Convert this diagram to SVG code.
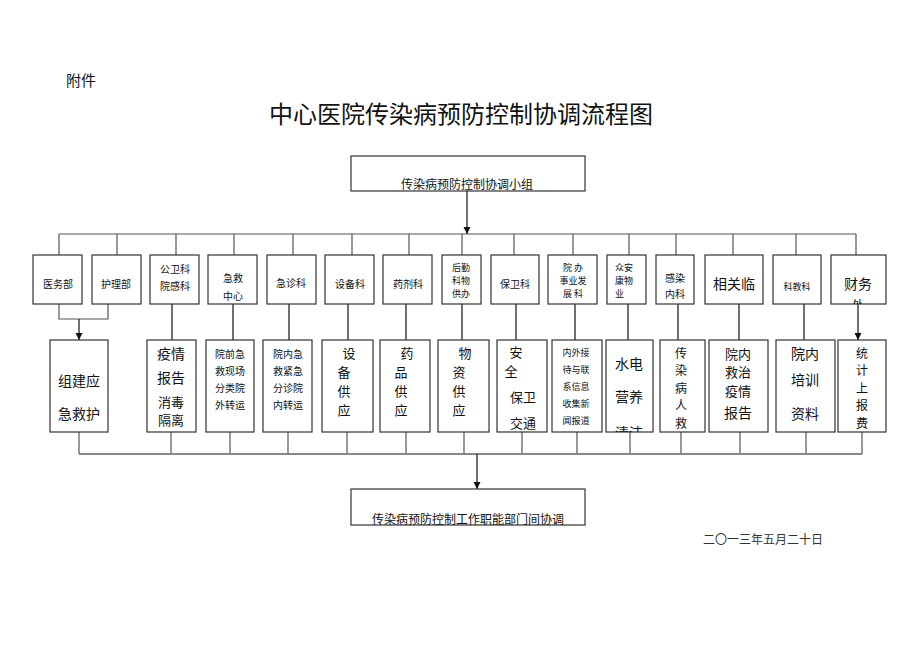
<svg xmlns="http://www.w3.org/2000/svg" width="920" height="651" viewBox="0 0 920 651">
<style>
text{font-family:"Noto Sans CJK SC","Liberation Sans",sans-serif;fill:#111;text-anchor:middle;dominant-baseline:central}
.box rect{fill:#fff;stroke:#333;stroke-width:1.2}
.s10{font-size:10px}.s9{font-size:9px}.s14{font-size:14px}.s13{font-size:13px}.s12{font-size:12px}
.ln{stroke:#555;stroke-width:1.2;fill:none}
.ar{stroke:#111;stroke-width:1.2;fill:none;marker-end:url(#a)}
.bus{stroke:#888;stroke-width:2.2;fill:none}
</style>
<defs>
<marker id="a" markerWidth="8" markerHeight="8" refX="7" refY="4" orient="auto" markerUnits="userSpaceOnUse"><path d="M0,0.5 L7,4 L0,7.5 Z" fill="#111"/></marker>
<clipPath id="cFin"><rect x="831" y="255" width="55" height="49"/></clipPath>
<clipPath id="cWater"><rect x="606" y="340" width="47" height="92"/></clipPath>
</defs>
<rect width="920" height="651" fill="#fff"/>
<text x="81" y="79" style="font-size:15px">附件</text>
<text x="461" y="112" style="font-size:24px">中心医院传染病预防控制协调流程图</text>
<g id="top"><g class="box"><rect x="351" y="156" width="234" height="35"/></g><text x="467" y="183" class="s12">传染病预防控制协调小组</text></g>
<g id="connectors">
<path class="ar" d="M467,191 V234"/>
<path class="ln" d="M59,234 H856 M59,234 V255 M117,234 V255 M176,234 V255 M234,234 V255 M293,234 V255 M352,234 V255 M409,234 V255 M462,234 V255 M514,234 V255 M573,234 V255 M629,234 V255 M676,234 V255 M733,234 V255 M796,234 V255 M856,234 V255"/>
<path class="ln" d="M59,304 V319 H108 V304"/>
<path class="ar" d="M79,319 V340"/>
<path class="ar" d="M172,304 V340 M233,304 V340 M289,304 V340 M348,304 V340 M406,304 V340 M462,304 V340 M516,304 V340 M575,304 V340 M628,304 V340 M678,304 V340 M739,304 V340 M804,304 V340 M858,304 V340"/>
<path class="ln" d="M79,432 V454 M171,432 V454 M230,432 V454 M288,432 V454 M347,432 V454 M406,432 V454 M464,432 V454 M522,432 V454 M577,432 V454 M630,432 V454 M681,432 V454 M740,432 V454 M806,432 V454 M862,432 V454"/>
<path class="bus" d="M79,454 H862"/>
<path class="ar" d="M477,454 V489"/>
</g>
<g id="n1"><g class="box"><rect x="33" y="255" width="49" height="49"/></g><text x="58" y="283" class="s10">医务部</text></g>
<g id="n2"><g class="box"><rect x="92" y="255" width="49" height="49"/></g><text x="116" y="283" class="s10">护理部</text></g>
<g id="n3"><g class="box"><rect x="150" y="255" width="49" height="49"/></g><text x="175" y="268" class="s10">公卫科</text><text x="175" y="285" class="s10">院感科</text></g>
<g id="n4"><g class="box"><rect x="208" y="255" width="49" height="49"/></g><text x="233" y="277" class="s10">急救</text><text x="233" y="295" class="s10">中心</text></g>
<g id="n5"><g class="box"><rect x="267" y="255" width="49" height="49"/></g><text x="291" y="282" class="s10">急诊科</text></g>
<g id="n6"><g class="box"><rect x="325" y="255" width="49" height="49"/></g><text x="350" y="283" class="s10">设备科</text></g>
<g id="n7"><g class="box"><rect x="383" y="255" width="49" height="49"/></g><text x="408" y="283" class="s10">药剂科</text></g>
<g id="n8"><g class="box"><rect x="442" y="255" width="39" height="49"/></g><text x="461" y="267" class="s9">后勤</text><text x="461" y="280.2" class="s9">科物</text><text x="461" y="293.4" class="s9">供办</text></g>
<g id="n9"><g class="box"><rect x="491" y="255" width="48" height="49"/></g><text x="515" y="283" class="s10">保卫科</text></g>
<g id="n10"><g class="box"><rect x="548" y="255" width="49" height="49"/></g><text x="573" y="267" class="s9">院 办</text><text x="573" y="280.2" class="s9">事业发</text><text x="573" y="293.4" class="s9">展 科</text></g>
<g id="n11"><g class="box"><rect x="607" y="255" width="39" height="49"/></g><text x="615" y="267" class="s9" style="text-anchor:start">众安</text><text x="615" y="280.2" class="s9" style="text-anchor:start">康物</text><text x="615" y="293.4" class="s9" style="text-anchor:start">业</text></g>
<g id="n12"><g class="box"><rect x="656" y="255" width="38" height="49"/></g><text x="675" y="277" class="s10">感染</text><text x="675" y="293" class="s10">内科</text></g>
<g id="n13"><g class="box"><rect x="705" y="255" width="58" height="49"/></g><text x="734" y="283" class="s14">相关临</text></g>
<g id="n14"><g class="box"><rect x="773" y="255" width="48" height="49"/></g><text x="797" y="286" class="s9">科教科</text></g>
<g id="n15"><g class="box"><rect x="831" y="255" width="55" height="49"/></g><text x="858" y="283" class="s14">财务</text><text x="858" y="304" class="s12" clip-path="url(#cFin)">处</text></g>
<g id="m1"><g class="box"><rect x="50" y="340" width="58" height="92"/></g><text x="79" y="380" class="s14">组建应</text><text x="79" y="413" class="s14">急救护</text></g>
<g id="m2"><g class="box"><rect x="147" y="340" width="49" height="92"/></g><text x="171" y="353" class="s14">疫情</text><text x="171" y="377" class="s14">报告</text><text x="171" y="401" class="s13">消毒</text><text x="171" y="419.5" class="s13">隔离</text></g>
<g id="m3"><g class="box"><rect x="206" y="340" width="48" height="92"/></g><text x="230" y="353" class="s10">院前急</text><text x="230" y="370" class="s10">救现场</text><text x="230" y="387" class="s10">分类院</text><text x="230" y="404" class="s10">外转运</text></g>
<g id="m4"><g class="box"><rect x="263" y="340" width="49" height="92"/></g><text x="288" y="353" class="s10">院内急</text><text x="288" y="370" class="s10">救紧急</text><text x="288" y="387" class="s10">分诊院</text><text x="288" y="404" class="s10">内转运</text></g>
<g id="m5"><g class="box"><rect x="322" y="340" width="51" height="92"/></g><text x="349" y="352" class="s13">设</text><text x="344" y="371" class="s13">备</text><text x="344" y="390" class="s13">供</text><text x="344" y="409" class="s13">应</text></g>
<g id="m6"><g class="box"><rect x="380" y="340" width="50" height="92"/></g><text x="407" y="352" class="s13">药</text><text x="401" y="371" class="s13">品</text><text x="401" y="390" class="s13">供</text><text x="401" y="409" class="s13">应</text></g>
<g id="m7"><g class="box"><rect x="438" y="340" width="51" height="92"/></g><text x="465" y="352" class="s13">物</text><text x="459" y="371" class="s13">资</text><text x="459" y="390" class="s13">供</text><text x="459" y="409" class="s13">应</text></g>
<g id="m8"><g class="box"><rect x="497" y="340" width="50" height="92"/></g><text x="516" y="351" class="s13">安</text><text x="511" y="370" class="s13">全</text><text x="523" y="396" class="s13">保卫</text><text x="523" y="422" class="s13">交通</text></g>
<g id="m9"><g class="box"><rect x="552" y="340" width="50" height="92"/></g><text x="576" y="352" class="s9">内外接</text><text x="576" y="369" class="s9">待与联</text><text x="576" y="386" class="s9">系信息</text><text x="576" y="403" class="s9">收集新</text><text x="576" y="420" class="s9">闻报道</text></g>
<g id="m10"><g class="box"><rect x="606" y="340" width="47" height="92"/></g><text x="629" y="363" class="s14">水电</text><text x="629" y="396" class="s14">营养</text><text x="629" y="432" class="s14" clip-path="url(#cWater)">清洁</text></g>
<g id="m11"><g class="box"><rect x="660" y="340" width="45" height="92"/></g><text x="681" y="352" class="s12">传</text><text x="681" y="369.5" class="s12">染</text><text x="681" y="387" class="s12">病</text><text x="681" y="404.5" class="s12">人</text><text x="681" y="422" class="s12">救</text></g>
<g id="m12"><g class="box"><rect x="709" y="340" width="59" height="92"/></g><text x="738" y="353" class="s13">院内</text><text x="738" y="371.5" class="s13">救治</text><text x="738" y="390" class="s13">疫情</text><text x="738" y="412" class="s14">报告</text></g>
<g id="m13"><g class="box"><rect x="776" y="340" width="59" height="92"/></g><text x="805" y="353" class="s14">院内</text><text x="805" y="379" class="s14">培训</text><text x="805" y="413" class="s14">资料</text></g>
<g id="m14"><g class="box"><rect x="838" y="340" width="48" height="92"/></g><text x="862" y="352" class="s12">统</text><text x="862" y="369.5" class="s12">计</text><text x="862" y="387" class="s12">上</text><text x="862" y="404.5" class="s12">报</text><text x="862" y="422" class="s12">费</text></g>
<g id="bottom"><g class="box"><rect x="351" y="489" width="234" height="36"/></g><text x="468" y="518" class="s12">传染病预防控制工作职能部门间协调</text></g>
<text x="763" y="538" style="font-size:12px;fill:#333">二〇一三年五月二十日</text>
</svg>
